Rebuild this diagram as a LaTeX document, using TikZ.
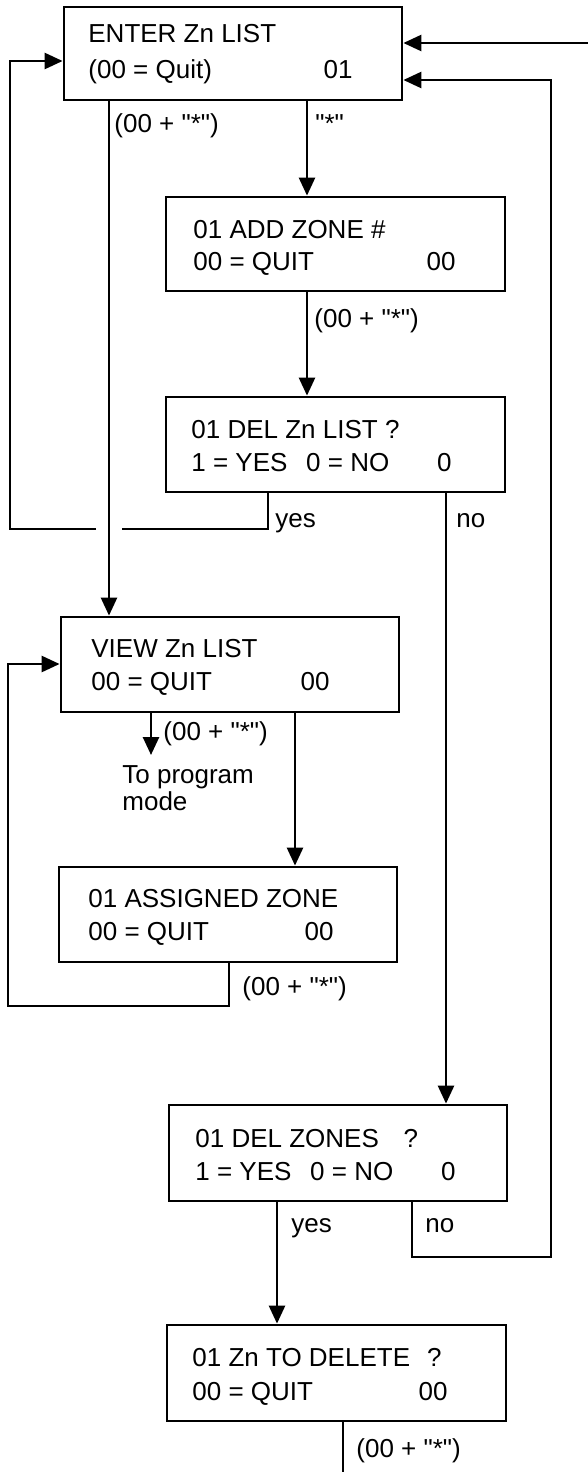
\documentclass[tikz,border=0pt]{standalone}
\usepackage{fontspec}
\setmainfont{Liberation Sans}[Ligatures=TeXOff]
\usetikzlibrary{arrows.meta}
\begin{document}
\begin{tikzpicture}[x=0.5pt,y=-0.5pt,
  box/.style={draw,line width=1.4pt,inner sep=0pt},
  conn/.style={line width=1.3pt},
  arr/.style={conn,-{Triangle[length=9pt,width=8pt]}},
  txt/.style={font=\fontsize{13pt}{15pt}\selectfont,inner sep=0pt,anchor=base west},
  num/.style={txt,anchor=base east}]
\useasboundingbox (0,0) rectangle (588,1472);
% boxes
\node[box,minimum width=169pt,minimum height=46.5pt] (b1) at (233,53.5) {};
\node[box,minimum width=169.5pt,minimum height=47pt] (b2) at (335.5,244) {};
\node[box,minimum width=169.5pt,minimum height=47.5pt] (b3) at (335.5,444.5) {};
\node[box,minimum width=169pt,minimum height=47.5pt] (b4) at (230,664.5) {};
\node[box,minimum width=169pt,minimum height=47.5pt] (bA) at (228,914.5) {};
\node[box,minimum width=169pt,minimum height=48pt] (b5) at (338,1153) {};
\node[box,minimum width=169.5pt,minimum height=48pt] (b6) at (336.5,1373) {};
% box texts
\node[txt] (b1a) at (88,42) {ENTER Zn LIST};
\node[txt] (b1b) at (88,78) {(00 = Quit)};
\node[num] (b1n) at (353,78) {01};
\node[txt] (b2a) at (193,238) {01 ADD ZONE \#};
\node[txt] (b2b) at (193,270) {00 = QUIT};
\node[num] (b2n) at (456,270) {00};
\node[txt] (b3a) at (191,438) {01 DEL Zn LIST ?};
\node[txt] (b3b) at (191,471) {1 = YES\hspace{0.72em}0 = NO};
\node[num] (b3n) at (452,471) {0};
\node[txt] (b4a) at (91,657) {VIEW Zn LIST};
\node[txt] (b4b) at (91,690) {00 = QUIT};
\node[num] (b4n) at (330,690) {00};
\node[txt] (bAa) at (88,907) {01 ASSIGNED ZONE};
\node[txt] (bAb) at (88,940) {00 = QUIT};
\node[num] (bAn) at (334,940) {00};
\node[txt] (b5a) at (195,1147) {01 DEL ZONES\hspace{0.95em}?};
\node[txt] (b5b) at (195,1180) {1 = YES\hspace{0.72em}0 = NO};
\node[num] (b5n) at (456,1180) {0};
\node[txt] (b6a) at (192,1366) {01 Zn TO DELETE\hspace{0.65em}?};
\node[txt] (b6b) at (192,1400) {00 = QUIT};
\node[num] (b6n) at (448,1400) {00};
% helper coordinates
\coordinate (c109) at (109,0);
\coordinate (c151) at (151,755);
\coordinate (c229) at (229,0);
\coordinate (c268) at (268,0);
\coordinate (c277) at (277,0);
\coordinate (c295) at (295,0);
\coordinate (c307) at (307,0);
\coordinate (c412) at (412,0);
\coordinate (c446) at (446,0);
\coordinate (bot) at (343,1472);
\coordinate (tr) at (588,43);
\coordinate (r61) at (0,61);
\coordinate (r80) at (0,80);
\coordinate (r664) at (0,664);
\coordinate (rr) at (551,1257);
\coordinate (gR) at (122,529);
\coordinate (gL) at (96,529);
\coordinate (cL) at (10,529);
\coordinate (aL) at (8,1006);
% connectors
\draw[arr] (tr) -- (b1.east |- tr);
\draw[arr] (b5.south -| c412) |- (rr) |- (b1.east |- r80);
\draw[conn] (b3.south -| c268) |- (gR);
\draw[arr] (gL) -- (cL) |- (b1.west |- r61);
\draw[arr] (b1.south -| c109) -- (b4.north -| c109);
\draw[arr] (b1.south -| c307) -- (b2.north -| c307);
\draw[arr] (b2.south -| c307) -- (b3.north -| c307);
\draw[arr] (b3.south -| c446) -- (b5.north -| c446);
\draw[arr] (b4.south -| c151) -- (c151);
\draw[arr] (b4.south -| c295) -- (bA.north -| c295);
\draw[arr] (bA.south -| c229) |- (aL) |- (b4.west |- r664);
\draw[arr] (b5.south -| c277) -- (b6.north -| c277);
\draw[conn] (b6.south -| bot) -- (bot);
% labels
\node[txt] (l1) at (114,132) {(00 + "*")};
\node[txt] (l2) at (315,132) {"*"};
\node[txt] (l3) at (314,327) {(00 + "*")};
\node[txt] (l4) at (275,527) {yes};
\node[txt] (l5) at (456,527) {no};
\node[txt] (l6) at (163,740) {(00 + "*")};
\node[txt] (l7) at (122,783) {To program};
\node[txt] (l8) at (122,810) {mode};
\node[txt] (l9) at (242,995) {(00 + "*")};
\node[txt] (l10) at (291,1232) {yes};
\node[txt] (l11) at (425,1232) {no};
\node[txt] (l12) at (356,1457) {(00 + "*")};
\end{tikzpicture}
\end{document}
